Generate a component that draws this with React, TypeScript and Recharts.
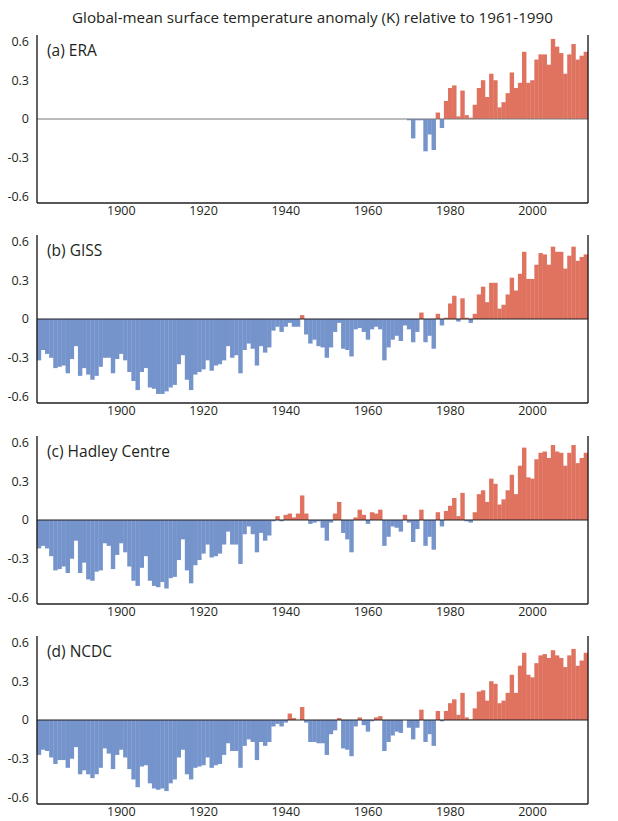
import { Bar, BarChart, Cell, ReferenceLine, XAxis, YAxis } from 'recharts'

// years 1880..2013, one bar each
const years = Array.from({ length: 134 }, (_, i) => 1880 + i)
const xTicks = [1900, 1920, 1940, 1960, 1980, 2000]
const yTicks = [-0.6, -0.3, 0, 0.3, 0.6]

// ERA only has values from 1970 on
const eraFirstYear = 1970
const eraValues = [
  -0.01, -0.15, -0.01, -0.01, -0.25, -0.12, -0.24, 0.05, -0.07, 0.14,
  0.24, 0.26, 0.02, 0.22, 0.03, 0.01, 0.11, 0.24, 0.3, 0.17,
  0.35, 0.3, 0.09, 0.13, 0.2, 0.36, 0.24, 0.28, 0.52, 0.28,
  0.3, 0.46, 0.5, 0.5, 0.42, 0.62, 0.56, 0.51, 0.35, 0.5,
  0.58, 0.46, 0.49, 0.52,
]

const gissValues = [
  -0.32, -0.24, -0.27, -0.3, -0.38, -0.37, -0.36, -0.42, -0.31, -0.21,
  -0.44, -0.38, -0.43, -0.47, -0.44, -0.37, -0.3, -0.3, -0.42, -0.31,
  -0.27, -0.32, -0.41, -0.48, -0.55, -0.41, -0.38, -0.53, -0.54, -0.58,
  -0.58, -0.56, -0.53, -0.51, -0.35, -0.28, -0.47, -0.55, -0.43, -0.41,
  -0.39, -0.32, -0.4, -0.36, -0.35, -0.32, -0.21, -0.3, -0.28, -0.42,
  -0.24, -0.19, -0.23, -0.36, -0.21, -0.26, -0.22, -0.09, -0.06, -0.1,
  -0.06, -0.03, -0.06, -0.06, 0.03, -0.12, -0.19, -0.16, -0.21, -0.22,
  -0.3, -0.22, -0.1, -0.03, -0.23, -0.24, -0.29, -0.08, -0.07, -0.1,
  -0.16, -0.08, -0.06, -0.08, -0.32, -0.22, -0.16, -0.13, -0.17, -0.05,
  -0.08, -0.18, -0.1, 0.05, -0.18, -0.13, -0.23, 0.04, -0.05, 0.01,
  0.12, 0.18, -0.02, 0.16, 0.01, -0.03, 0.04, 0.19, 0.25, 0.13,
  0.28, 0.28, 0.08, 0.11, 0.19, 0.32, 0.22, 0.35, 0.52, 0.31,
  0.31, 0.42, 0.51, 0.5, 0.42, 0.56, 0.52, 0.52, 0.39, 0.49,
  0.56, 0.45, 0.48, 0.5,
]

const hadleyValues = [
  -0.22, -0.2, -0.22, -0.28, -0.39, -0.38, -0.36, -0.41, -0.3, -0.16,
  -0.41, -0.33, -0.46, -0.47, -0.4, -0.39, -0.18, -0.2, -0.38, -0.27,
  -0.18, -0.25, -0.36, -0.47, -0.51, -0.37, -0.28, -0.47, -0.51, -0.52,
  -0.48, -0.53, -0.45, -0.44, -0.31, -0.15, -0.39, -0.49, -0.35, -0.31,
  -0.26, -0.19, -0.29, -0.28, -0.26, -0.19, -0.09, -0.19, -0.19, -0.34,
  -0.11, -0.05, -0.11, -0.25, -0.1, -0.16, -0.12, -0.01, 0.03, -0.01,
  0.04, 0.05, 0.02, 0.05, 0.19, 0.05, -0.03, -0.02, -0.01, -0.06,
  -0.16, -0.02, 0.05, 0.14, -0.1, -0.15, -0.25, 0.02, 0.08, 0.04,
  -0.03, 0.06, 0.05, 0.08, -0.2, -0.13, -0.05, -0.06, -0.09, 0.04,
  -0.02, -0.17, -0.07, 0.08, -0.2, -0.13, -0.23, 0.06, -0.05, 0.07,
  0.11, 0.17, 0.03, 0.21, -0.01, -0.02, 0.06, 0.2, 0.23, 0.14,
  0.32, 0.28, 0.12, 0.16, 0.23, 0.35, 0.2, 0.42, 0.56, 0.33,
  0.32, 0.47, 0.52, 0.53, 0.48, 0.58, 0.53, 0.52, 0.42, 0.52,
  0.58, 0.44, 0.48, 0.52,
]

const ncdcValues = [
  -0.27, -0.23, -0.24, -0.29, -0.34, -0.31, -0.31, -0.37, -0.3, -0.21,
  -0.42, -0.39, -0.42, -0.45, -0.42, -0.37, -0.22, -0.26, -0.38, -0.27,
  -0.23, -0.29, -0.38, -0.46, -0.52, -0.36, -0.35, -0.49, -0.53, -0.54,
  -0.53, -0.55, -0.49, -0.46, -0.29, -0.23, -0.42, -0.46, -0.37, -0.36,
  -0.35, -0.29, -0.37, -0.35, -0.34, -0.27, -0.18, -0.24, -0.24, -0.37,
  -0.2, -0.15, -0.17, -0.31, -0.17, -0.2, -0.17, -0.05, -0.03, -0.05,
  -0.02, 0.05, 0.015, 0.0, 0.1, -0.02, -0.17, -0.17, -0.18, -0.18,
  -0.27, -0.11, -0.08, 0.015, -0.22, -0.23, -0.28, -0.05, 0.02, -0.04,
  -0.09, -0.01, 0.02, 0.03, -0.24, -0.17, -0.12, -0.09, -0.1, 0.0,
  -0.06, -0.15, -0.06, 0.08, -0.17, -0.11, -0.2, 0.07, -0.01, 0.07,
  0.13, 0.16, 0.04, 0.21, 0.02, 0.005, 0.09, 0.22, 0.23, 0.15,
  0.3, 0.28, 0.13, 0.15, 0.21, 0.35, 0.21, 0.42, 0.52, 0.35,
  0.33, 0.44, 0.5, 0.51, 0.48, 0.54, 0.5, 0.48, 0.41, 0.5,
  0.55, 0.42, 0.46, 0.52,
]

const RED = '#df735f'
const BLUE = '#7594cc'
const INK = '#231f20'
const FONT = '"Open Sans", sans-serif'

const W = 618
const H = 200
const LEFT_W = 37
const RIGHT_W = 30
const PLOT_TOP = 34.5
const PANEL_STEP = 200.6
// width of one year slot; recharts rounds bar widths down, so the shape widens each bar to the full slot
const SLOT = (W - LEFT_W - RIGHT_W) / years.length

// bar centred where recharts put it, but as wide as its year slot (plus a hair to hide seams)
function SlotBar(props: any) {
  const { x, y, width, height, fill } = props
  if (x == null || !height) return null
  const cx = x + width / 2
  const top = Math.min(y, y + height)
  return (
    <rect
      x={cx - SLOT / 2 - 0.15}
      y={top}
      width={SLOT + 0.3}
      height={Math.abs(height)}
      fill={fill}
    />
  )
}

type PanelProps = {
  label: string
  values: Array<number | null>
  index: number
  zeroColor: string
}

function Panel({ label, values, index, zeroColor }: PanelProps) {
  const data = years.map((year, i) => ({ year, value: values[i] }))
  const top = PLOT_TOP + index * PANEL_STEP - 5
  const tickStyle = { fontSize: 12.5, fill: INK, fontFamily: FONT }
  const frame = { stroke: INK, strokeWidth: 1.4 }

  return (
    <div style={{ position: 'absolute', left: 0, top, width: W, height: H }}>
      <BarChart
        width={W}
        height={H}
        data={data}
        margin={{ top: 5, right: 0, bottom: 0, left: 0 }}
        barCategoryGap={0}
        barGap={0}
      >
        <XAxis
          dataKey="year"
          type="number"
          domain={[1879.5, 2013.5]}
          ticks={xTicks}
          tickLine={false}
          tickSize={0}
          tickMargin={3}
          axisLine={frame}
          tick={tickStyle}
          height={27}
        />
        <XAxis
          xAxisId="top"
          orientation="top"
          dataKey="year"
          type="number"
          domain={[1879.5, 2013.5]}
          tick={false}
          tickLine={false}
          axisLine={frame}
          height={0}
        />
        <YAxis
          yAxisId="left"
          domain={[-0.65, 0.65]}
          ticks={yTicks}
          tickLine={false}
          tickSize={0}
          tickMargin={8}
          axisLine={frame}
          tick={tickStyle}
          width={LEFT_W}
        />
        <YAxis
          yAxisId="right"
          orientation="right"
          domain={[-0.65, 0.65]}
          ticks={yTicks}
          tickLine={false}
          tickSize={0}
          tickMargin={7}
          axisLine={frame}
          tick={{ ...tickStyle, textAnchor: 'start' }}
          width={RIGHT_W}
        />
        <Bar yAxisId="left" dataKey="value" shape={SlotBar} isAnimationActive={false}>
          {data.map((d) => (
            <Cell key={d.year} fill={d.value != null && d.value >= 0 ? RED : BLUE} />
          ))}
        </Bar>
        <ReferenceLine yAxisId="left" y={0} stroke={zeroColor} strokeWidth={1.2} />
      </BarChart>
      <div
        style={{
          position: 'absolute',
          left: 47,
          top: 11,
          fontFamily: FONT,
          fontSize: 15.5,
          lineHeight: '18px',
          color: INK,
        }}
      >
        {label}
      </div>
    </div>
  )
}

export default function App() {
  const eraSeries = years.map((y) =>
    y < eraFirstYear ? null : eraValues[y - eraFirstYear],
  )

  return (
    <div style={{ position: 'absolute', left: 0, top: 0, width: W, height: 821, background: '#fff' }}>
      <div
        style={{
          position: 'absolute',
          left: LEFT_W,
          width: W - LEFT_W - RIGHT_W,
          top: 7,
          textAlign: 'center',
          fontFamily: FONT,
          fontSize: 15.2,
          lineHeight: '20px',
          color: INK,
        }}
      >
        Global-mean surface temperature anomaly (K) relative to 1961-1990
      </div>
      <Panel label="(a) ERA" values={eraSeries} index={0} zeroColor="#7a7a7a" />
      <Panel label="(b) GISS" values={gissValues} index={1} zeroColor={INK} />
      <Panel label="(c) Hadley Centre" values={hadleyValues} index={2} zeroColor={INK} />
      <Panel label="(d) NCDC" values={ncdcValues} index={3} zeroColor={INK} />
    </div>
  )
}
